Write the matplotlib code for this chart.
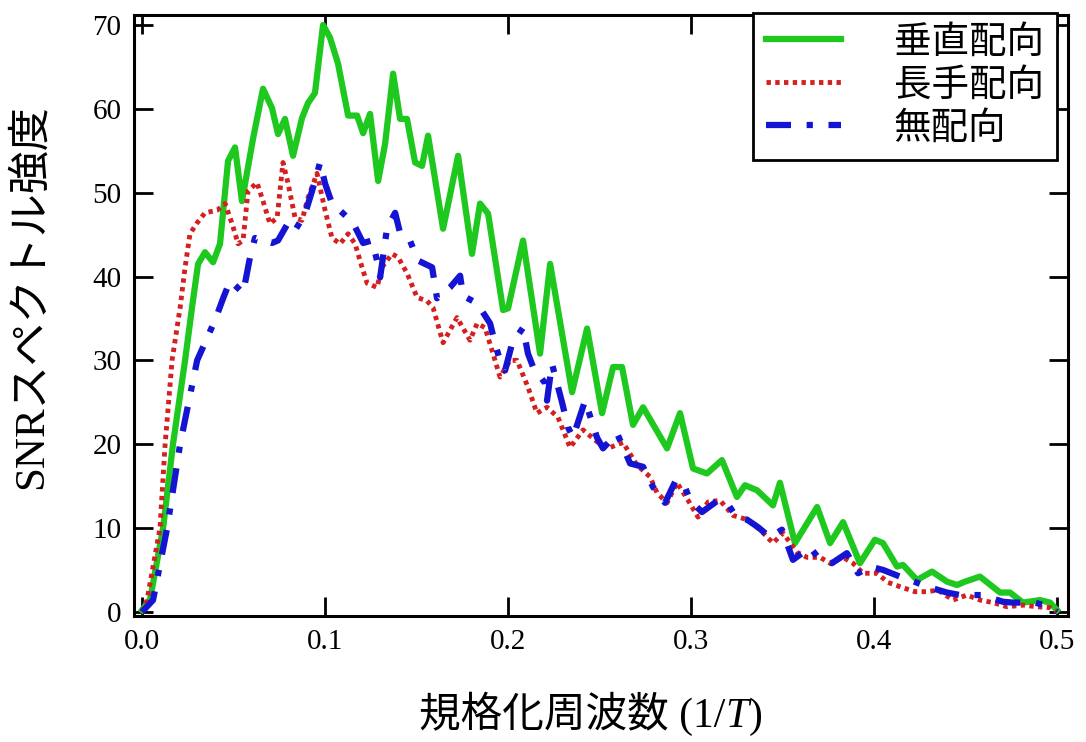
import matplotlib
matplotlib.use("Agg")
import matplotlib.pyplot as plt

plt.rcParams['font.family'] = ['Liberation Serif', 'Noto Sans CJK JP']

# 垂直配向 (green, solid)
x_v = [0.000, 0.0044, 0.0115, 0.0169, 0.0235, 0.0273, 0.0306, 0.0344, 0.0388, 0.0426,
       0.0470, 0.0508, 0.0546, 0.0607, 0.0661, 0.0710, 0.0743, 0.0781, 0.0825, 0.0874,
       0.0907, 0.0945, 0.0989, 0.1027, 0.1071, 0.1126, 0.1175, 0.1208, 0.1246, 0.1290,
       0.1328, 0.1372, 0.1410, 0.1448, 0.1492, 0.1530, 0.1563, 0.1645, 0.1727, 0.1803,
       0.1847, 0.1891, 0.1973, 0.2000, 0.2082, 0.2175, 0.2230, 0.2350, 0.2432, 0.2514,
       0.2574, 0.2623, 0.2683, 0.2738, 0.2869, 0.2940, 0.3011, 0.3087, 0.3169, 0.3251,
       0.3295, 0.3361, 0.3448, 0.3486, 0.3568, 0.3689, 0.3760, 0.3831, 0.3923, 0.4005,
       0.4049, 0.4126, 0.4158, 0.4235, 0.4317, 0.4399, 0.4454, 0.4497, 0.4579, 0.4689,
       0.4743, 0.4814, 0.4907, 0.4962, 0.5000]
y_v = [0.2, 1.5, 10.0, 20.0, 30.0, 36.3, 41.5, 42.9, 41.7, 43.9,
       53.8, 55.4, 49.0, 56.5, 62.4, 60.1, 57.0, 58.8, 54.4, 58.9,
       60.7, 61.9, 70.0, 68.5, 65.4, 59.2, 59.2, 57.1, 59.4, 51.4,
       55.8, 64.2, 58.8, 58.8, 53.6, 53.2, 56.8, 45.7, 54.4, 42.7,
       48.7, 47.5, 36.0, 36.2, 44.3, 30.8, 41.5, 26.2, 33.8, 23.7,
       29.2, 29.2, 22.3, 24.4, 19.5, 23.7, 17.1, 16.5, 18.1, 13.7,
       15.1, 14.5, 12.7, 15.4, 8.2, 12.5, 8.2, 10.7, 5.8, 8.6,
       8.2, 5.4, 5.6, 3.8, 4.8, 3.6, 3.2, 3.6, 4.2, 2.3,
       2.3, 1.1, 1.4, 1.1, 0.2]

# 長手配向 (red, dotted)
x_l = [0.000, 0.0027, 0.0098, 0.0126, 0.0164, 0.0208, 0.0235, 0.0262, 0.0301, 0.0344,
       0.0410, 0.0454, 0.0492, 0.0525, 0.0552, 0.0579, 0.0628, 0.0661, 0.0699, 0.0738,
       0.0770, 0.0798, 0.0836, 0.0874, 0.0907, 0.0956, 0.1000, 0.1038, 0.1082, 0.1126,
       0.1164, 0.1202, 0.1230, 0.1284, 0.1311, 0.1366, 0.1399, 0.1448, 0.1503, 0.1557,
       0.1590, 0.1645, 0.1721, 0.1792, 0.1831, 0.1874, 0.1918, 0.1956, 0.2011, 0.2049,
       0.2109, 0.2158, 0.2213, 0.2273, 0.2339, 0.2410, 0.2492, 0.2557, 0.2628, 0.2705,
       0.2776, 0.2814, 0.2869, 0.2923, 0.2984, 0.3038, 0.3093, 0.3158, 0.3230, 0.3306,
       0.3377, 0.3448, 0.3503, 0.3579, 0.3634, 0.3705, 0.3760, 0.3831, 0.3885, 0.3940,
       0.4016, 0.4077, 0.4142, 0.4224, 0.4290, 0.4350, 0.4432, 0.4508, 0.4579, 0.4650,
       0.4727, 0.4814, 0.4891, 0.4962, 0.5000]
y_l = [0.0, 1.4, 10.0, 20.0, 30.0, 36.3, 41.1, 45.1, 46.4, 47.6,
       47.9, 48.7, 46.3, 43.9, 44.3, 50.2, 51.2, 49.0, 46.3, 47.0,
       53.6, 51.1, 47.0, 46.7, 49.4, 52.3, 47.9, 44.6, 43.9, 45.1,
       43.9, 41.1, 39.2, 38.7, 41.1, 42.7, 42.3, 40.4, 37.5, 37.1,
       36.3, 32.1, 35.1, 32.4, 34.4, 33.9, 30.8, 28.0, 30.0, 30.0,
       26.8, 23.7, 24.4, 23.2, 19.6, 21.7, 20.2, 19.6, 20.2, 17.5,
       16.1, 14.2, 13.0, 15.4, 13.3, 11.3, 13.1, 13.3, 11.5, 11.0,
       9.8, 8.2, 9.4, 7.1, 6.5, 6.5, 5.8, 6.5, 5.8, 4.6,
       4.6, 3.5, 3.0, 2.4, 2.4, 2.6, 1.4, 2.0, 1.4, 1.1,
       0.6, 0.8, 0.6, 0.5, 0.0]

# 無配向 (blue, dash-dot)
x_n = [0.000, 0.0060, 0.0137, 0.0208, 0.0301, 0.0399, 0.0443, 0.0481, 0.0525, 0.0552,
       0.0590, 0.0617, 0.0710, 0.0743, 0.0798, 0.0836, 0.0891, 0.0929, 0.0973, 0.1000,
       0.1038, 0.1071, 0.1153, 0.1208, 0.1257, 0.1284, 0.1301, 0.1339, 0.1383, 0.1410,
       0.1464, 0.1508, 0.1585, 0.1612, 0.1683, 0.1738, 0.1754, 0.1831, 0.1902, 0.1929,
       0.1956, 0.1984, 0.2022, 0.2082, 0.2109, 0.2137, 0.2202, 0.2213, 0.2240, 0.2295,
       0.2328, 0.2355, 0.2421, 0.2486, 0.2519, 0.2596, 0.2667, 0.2738, 0.2792, 0.2858,
       0.2913, 0.2956, 0.2995, 0.3060, 0.3148, 0.3197, 0.3251, 0.3306, 0.3366, 0.3432,
       0.3497, 0.3557, 0.3650, 0.3705, 0.3770, 0.3852, 0.3913, 0.3978, 0.4049, 0.4142,
       0.4197, 0.4290, 0.4399, 0.4470, 0.4590, 0.4705, 0.4760, 0.4880, 0.4962, 0.5000]
y_n = [0.0, 1.4, 10.0, 20.0, 30.0, 34.8, 37.4, 39.5, 38.6, 38.0,
       42.3, 44.6, 44.0, 44.3, 46.4, 45.5, 47.5, 50.2, 53.6, 51.1,
       48.7, 48.1, 46.4, 44.0, 44.3, 41.9, 39.9, 45.8, 47.6, 45.2,
       44.3, 41.9, 41.1, 37.4, 38.7, 40.1, 37.7, 36.8, 34.4, 32.0,
       30.0, 28.8, 32.0, 33.9, 30.8, 29.2, 27.3, 25.2, 29.6, 25.0,
       22.0, 20.8, 25.2, 20.8, 19.5, 21.3, 17.7, 17.3, 14.9, 13.0,
       15.5, 15.5, 13.3, 11.9, 13.3, 13.0, 11.2, 11.0, 10.1, 8.9,
       9.8, 6.2, 7.7, 6.2, 5.8, 7.0, 4.6, 5.4, 5.0, 4.2,
       3.8, 3.0, 2.3, 2.0, 2.0, 1.2, 1.1, 1.1, 0.6, 0.0]

labels = ['垂直配向', '長手配向', '無配向']
xticks = [0.0, 0.1, 0.2, 0.3, 0.4, 0.5]
yticks = [0, 10, 20, 30, 40, 50, 60, 70]

fig = plt.figure(figsize=(10.86, 7.42), dpi=100)
ax = fig.add_axes([0.1234, 0.1698, 0.8600, 0.8100])

ax.plot(x_v, y_v, color='#1ec81e', linewidth=4.5, label=labels[0])
ax.plot(x_l, y_l, color='#d42020', linewidth=3.5, linestyle=(0, (0.9, 0.9)), label=labels[1])
ax.plot(x_n, y_n, color='#1414d2', linewidth=4.5, linestyle=(0, (4, 2.5, 1, 2.5)), label=labels[2])

ax.set_xlim(-0.0044, 0.506)
ax.set_ylim(-0.5, 71.2)
ax.set_xticks(xticks)
ax.set_xticklabels(['%.1f' % v for v in xticks])
ax.set_yticks(yticks)
ax.tick_params(direction='in', length=14, width=2, labelsize=21, pad=9,
               top=True, right=True)
for s in ax.spines.values():
    s.set_linewidth(2.2)

leg = ax.legend(loc='upper right', bbox_to_anchor=(0.988, 1.004), borderaxespad=0,
                fontsize=27, handlelength=2.0, handletextpad=1.4, labelspacing=0.22,
                fancybox=False, framealpha=1, borderpad=0.35)
leg.get_frame().set_edgecolor('black')
leg.get_frame().set_linewidth(2)

fig.text(0.028, 0.60, 'SNRスペクトル強度', rotation=90, ha='center', va='center', fontsize=31)

t1 = fig.text(0.386, 0.020, '規格化周波数 (1/', ha='left', va='baseline', fontsize=30)
t2 = ax.annotate('T', xy=(1, 0), xycoords=t1, ha='left', va='bottom', fontsize=30,
                 fontstyle='italic', annotation_clip=False)
ax.annotate(')', xy=(1, 0), xycoords=t2, ha='left', va='bottom', fontsize=30,
            annotation_clip=False)

fig.savefig('out.png', dpi=100)
